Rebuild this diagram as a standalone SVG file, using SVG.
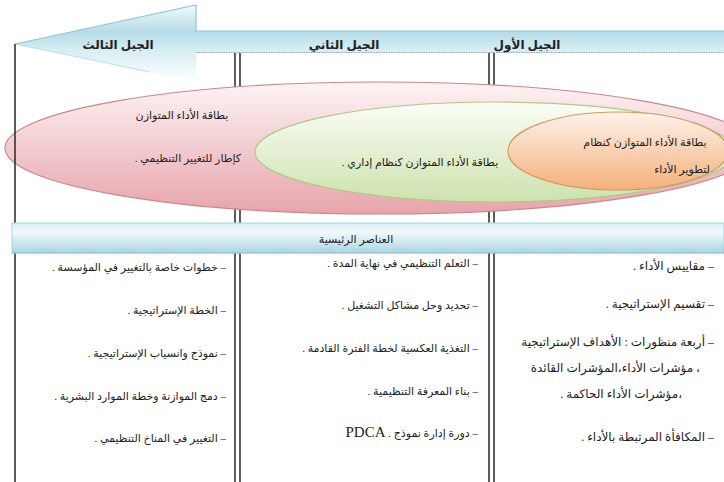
<svg xmlns="http://www.w3.org/2000/svg" width="724" height="482" viewBox="0 0 724 482">
<defs>
<linearGradient id="gArrow" gradientUnits="userSpaceOnUse" x1="0" y1="5" x2="0" y2="82">
<stop offset="0" stop-color="#f1f9fb"/>
<stop offset="0.35" stop-color="#b5dce8"/>
<stop offset="0.58" stop-color="#d6edf3"/>
<stop offset="1" stop-color="#ffffff"/>
</linearGradient>
<linearGradient id="gBanner" x1="0" y1="0" x2="0" y2="1">
<stop offset="0" stop-color="#d8eef5"/>
<stop offset="0.3" stop-color="#f2fafc"/>
<stop offset="1" stop-color="#a9d5e3"/>
</linearGradient>
<linearGradient id="gPink" x1="0" y1="0" x2="0" y2="1">
<stop offset="0" stop-color="#fdf3f4"/>
<stop offset="1" stop-color="#e7a4ab"/>
</linearGradient>
<linearGradient id="gGreen" x1="0" y1="0" x2="0" y2="1">
<stop offset="0" stop-color="#fbfdf7"/>
<stop offset="1" stop-color="#cde2ad"/>
</linearGradient>
<linearGradient id="gOrange" x1="0" y1="0" x2="0" y2="1">
<stop offset="0" stop-color="#fdf3ea"/>
<stop offset="1" stop-color="#f4b07c"/>
</linearGradient>
<style>
.t{font-family:'Liberation Serif','DejaVu Sans',serif;font-size:11px;fill:#222;direction:rtl}
.t12{font-size:12px}
.h{font-family:'Liberation Serif','DejaVu Sans',serif;font-size:12px;font-weight:bold;fill:#222;direction:rtl}
.r{text-anchor:start}
.m{text-anchor:middle}
.vl{stroke:#333;stroke-width:1.6;fill:none}
</style>
</defs>
<rect width="724" height="482" fill="#ffffff"/>

<g id="arrow">
<polygon points="15,44 196,5 196,31 724,31 724,53 196,53 196,82" fill="url(#gArrow)"/>
<polyline points="15,44 196,5 196,31 724,31" fill="none" stroke="#8fc6d6" stroke-width="1.2"/>
<line x1="15" y1="44" x2="150" y2="72" stroke="#bfe0ea" stroke-width="1"/>
<line x1="196" y1="52.5" x2="724" y2="52.5" stroke="#9aaab0" stroke-width="1" stroke-dasharray="1.5 1"/>
<text class="h m" x="118" y="49">الجيل الثالث</text>
<text class="h m" x="344" y="49">الجيل الثاني</text>
<text class="h m" x="527" y="49">الجيل الأول</text>
</g>

<g id="columns">
<line class="vl" x1="235" y1="53" x2="235" y2="482"/>
<line class="vl" x1="240" y1="53" x2="240" y2="482"/>
<line class="vl" x1="489" y1="53" x2="489" y2="482"/>
<line class="vl" x1="494" y1="53" x2="494" y2="482"/>
</g>

<g id="pink">
<ellipse cx="380" cy="148" rx="375" ry="66" fill="url(#gPink)" stroke="#c98790" stroke-width="1.2"/>
<text class="t m" x="182" y="119">بطاقة الأداء المتوازن</text>
<text class="t m" x="188" y="162">كإطار للتغيير التنظيمي .</text>
</g>

<g id="green">
<ellipse cx="495" cy="152" rx="240" ry="50" fill="url(#gGreen)" stroke="#afc985" stroke-width="1.2"/>
<text class="t m" x="420" y="166">بطاقة الأداء المتوازن كنظام إداري .</text>
</g>

<g id="orange">
<ellipse cx="618" cy="151" rx="110" ry="39" fill="url(#gOrange)" stroke="#d39b62" stroke-width="1.2"/>
<text class="t m" x="645" y="146">بطاقة الأداء المتوازن كنظام</text>
<text class="t m" x="682" y="173">لتطوير الأداء</text>
</g>

<line id="leftline" class="vl" x1="15" y1="44" x2="15" y2="482"/>

<g id="banner">
<rect x="12" y="223" width="712" height="30" fill="url(#gBanner)" stroke="#a6d3e1" stroke-width="1"/>
<line x1="12" y1="253" x2="724" y2="253" stroke="#9aaab0" stroke-width="1" stroke-dasharray="1.5 1"/>
<text class="t m" x="356" y="243">العناصر الرئيسية</text>
</g>

<g id="col3">
<text class="t r" x="226" y="271">–  خطوات خاصة بالتغيير في المؤسسة .</text>
<text class="t r" x="226" y="314">– الخطة الإستراتيجية .</text>
<text class="t r" x="226" y="357">– نموذج وانسياب الإستراتيجية .</text>
<text class="t r" x="226" y="400">– دمج الموازنة وخطة الموارد البشرية .</text>
<text class="t r" x="226" y="442">– التغيير في المناخ التنظيمي .</text>
</g>

<g id="col2">
<text class="t r" x="478" y="267">– التعلم التنظيمي في نهاية المدة .</text>
<text class="t r" x="478" y="309">– تحديد وحل مشاكل التشغيل .</text>
<text class="t r" x="478" y="352">– التغذية العكسية لخطة الفترة القادمة .</text>
<text class="t r" x="478" y="395">– بناء المعرفة التنظيمية .</text>
<text class="t r" x="478" y="437">– دورة إدارة نموذج .  <tspan font-size="15">PDCA</tspan></text>
</g>

<g id="col1">
<text class="t t12 r" x="714" y="270">–  مقاييس الأداء .</text>
<text class="t t12 r" x="714" y="308">–  تقسيم الإستراتيجية .</text>
<text class="t t12 r" x="714" y="346">–  أربعة منظورات : الأهداف الإستراتيجية</text>
<text class="t t12 r" x="700" y="372">، مؤشرات الأداء،المؤشرات القائدة</text>
<text class="t t12 r" x="682" y="398">،مؤشرات الأداء الحاكمة .</text>
<text class="t t12 r" x="714" y="441">–  المكافأة المرتبطة بالأداء .</text>
</g>
</svg>
